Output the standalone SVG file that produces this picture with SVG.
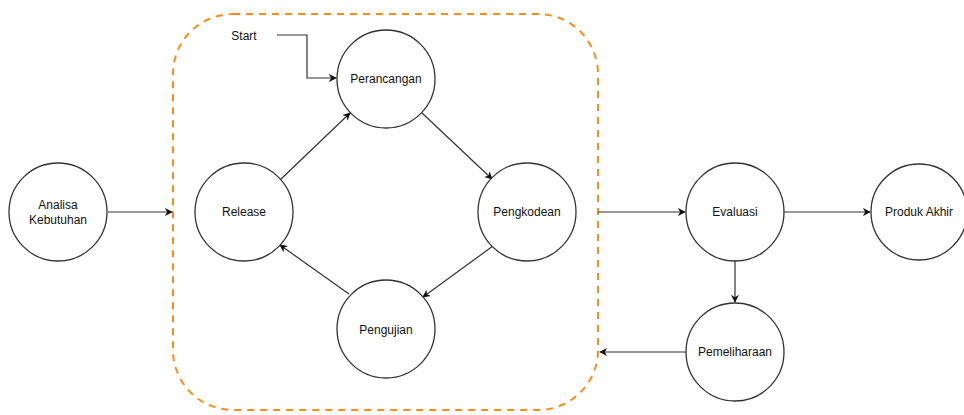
<svg xmlns="http://www.w3.org/2000/svg" width="964" height="415" viewBox="0 0 964 415">
<style>
.n{fill:#fff;stroke:#333;stroke-width:1.3}
.t{font-family:"Liberation Sans",Arial,sans-serif;font-size:12px;fill:#111;text-anchor:middle;dominant-baseline:central}
.e{fill:none;stroke:#333;stroke-width:1.2;marker-end:url(#a)}
</style>
<defs>
<marker id="a" viewBox="0 0 10 10" refX="9" refY="5" markerWidth="8" markerHeight="8" markerUnits="userSpaceOnUse" orient="auto">
<path d="M0,0 L10,5 L0,10 L3,5 Z" fill="#111"/>
</marker>
</defs>
<rect id="container" x="173" y="14" width="425" height="396" rx="60" ry="60" fill="none" stroke="#ff8c1a" stroke-width="2" stroke-dasharray="7,6"/>
<g id="connectors">
<path class="e" d="M108,212 L172,212"/>
<path class="e" d="M598,212 L685,212"/>
<path class="e" d="M784,212 L870,212"/>
<path class="e" d="M735,261 L735,302"/>
<path class="e" d="M686,352 L600,352"/>
<path class="e" d="M277,35 L307,35 L307,78 L336,78"/>
<path class="e" d="M280,180 L350,113"/>
<path class="e" d="M422,113 L492,179"/>
<path class="e" d="M493,246 L423,297"/>
<path class="e" d="M349,294 L280,245"/>
</g>
<g id="start"><text class="t" x="244" y="36">Start</text></g>
<g id="analisa"><circle class="n" cx="58" cy="212" r="49"/><text class="t" x="58" y="205">Analisa</text><text class="t" x="58" y="220">Kebutuhan</text></g>
<g id="perancangan"><circle class="n" cx="386" cy="79" r="49"/><text class="t" x="386" y="79">Perancangan</text></g>
<g id="release"><circle class="n" cx="244" cy="212" r="49"/><text class="t" x="244" y="212">Release</text></g>
<g id="pengkodean"><circle class="n" cx="527" cy="212" r="49"/><text class="t" x="527" y="212">Pengkodean</text></g>
<g id="pengujian"><circle class="n" cx="386" cy="329" r="49"/><text class="t" x="386" y="330">Pengujian</text></g>
<g id="evaluasi"><circle class="n" cx="735" cy="212" r="49"/><text class="t" x="735" y="212">Evaluasi</text></g>
<g id="produk"><circle class="n" cx="919" cy="212" r="48"/><text class="t" x="919" y="212">Produk Akhir</text></g>
<g id="pemeliharaan"><circle class="n" cx="735" cy="352" r="49"/><text class="t" x="735" y="352">Pemeliharaan</text></g>
</svg>
